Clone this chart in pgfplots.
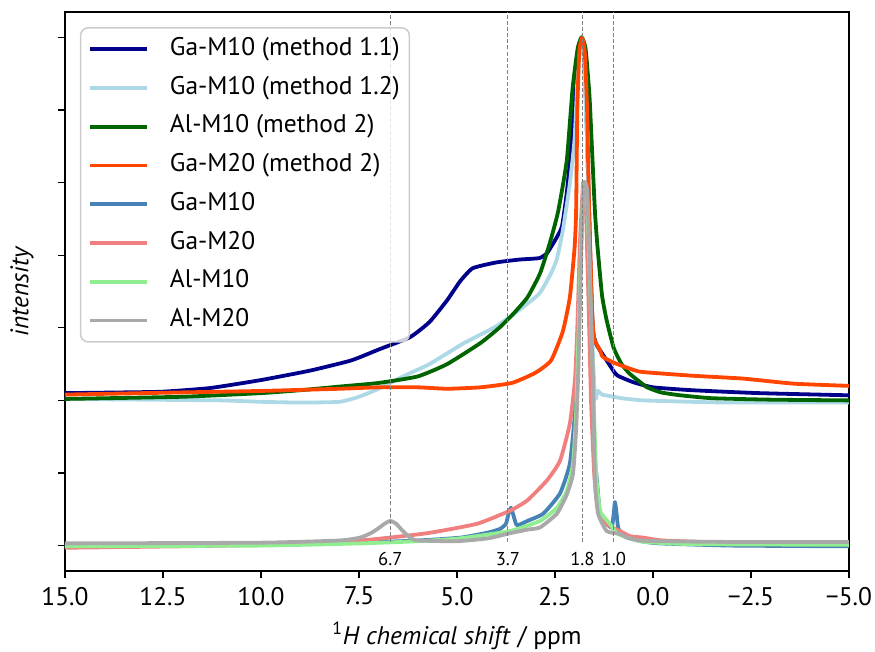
\documentclass[border=0pt]{standalone}
\usepackage{fontspec}
\setmainfont{PT Sans}
\usepackage{pgfplots}
\pgfplotsset{compat=1.18}
\definecolor{cNavy}{HTML}{00008B}
\definecolor{cLBlue}{HTML}{ADD8E6}
\definecolor{cDGreen}{HTML}{006400}
\definecolor{cOrRed}{HTML}{FF4500}
\definecolor{cSteel}{HTML}{4682B4}
\definecolor{cCoral}{HTML}{F08080}
\definecolor{cLGreen}{HTML}{90EE90}
\definecolor{cDGray}{HTML}{A9A9A9}
\begin{document}
\fontsize{13.4}{15.5}\selectfont
\begin{tikzpicture}
\useasboundingbox (-34.2pt,-42.6pt) rectangle (426.3pt,300.5pt);
\begin{axis}[at={(0,0)}, anchor=south west, scale only axis, width=412.6pt, height=294.2pt,
 x dir=reverse, xmin=-5, xmax=15, ymin=-0.35, ymax=7.35,
 xtick={-5,-2.5,0,2.5,5,7.5,10,12.5,15},
 xticklabels={−5.0,−2.5,0.0,2.5,5.0,7.5,10.0,12.5,15.0},
 ytick={0,1,...,7}, yticklabels={},
 xtick pos=bottom, ytick pos=left, tick align=outside, major tick length=3.7pt,
 tick style={line width=0.7pt, black},
 axis line style={line width=0.7pt},
 xlabel={\textsuperscript{1}\textit{H chemical shift} / ppm},
 ylabel={\textit{intensity}},
 every axis y label/.style={at={(axis description cs:0,0.5)}, xshift=-22.6pt, rotate=90, anchor=center},
 every axis x label/.style={at={(axis description cs:0.5,0)}, yshift=-34.2pt, anchor=center},
 legend style={at={(0.019,0.973)}, anchor=north west, draw=black!20, line width=0.8pt, rounded corners=4pt, fill=white, fill opacity=0.8, text opacity=1, draw opacity=1, inner xsep=4pt, inner ysep=4pt, row sep=5.9pt, nodes={inner sep=1pt, text height=9.5pt, text depth=3pt}, /tikz/every odd column/.append style={column sep=10pt}},
 legend cell align=left,
 legend image code/.code={\draw[#1] (0pt,0pt) -- (30pt,0pt);},
 every axis plot/.append style={line width=2pt, line join=round},
]
% Ga-M10 (method 1.1)
\addplot[cNavy, smooth, tension=0.3] coordinates {
(15,2.1) (13.5,2.11) (12.5,2.12) (11.3,2.17) (10,2.28) (8.75,2.41) (7.7,2.55) (7.0,2.7) (6.2,2.87) (5.7,3.08) (5.25,3.38) (4.92,3.64) (4.6,3.82) (4.0,3.9) (3.4,3.94) (2.9,3.96) (2.7,4.03) (2.45,4.25) (2.32,4.4) (2.2,4.85) (2.1,5.4) (2.0,6.1) (1.9,6.75) (1.83,7.0) (1.76,6.75) (1.7,6.0) (1.64,4.8) (1.58,3.6) (1.53,2.95) (1.45,2.78) (1.35,2.69) (1.18,2.55) (1.0,2.4) (0.9,2.34) (0.5,2.25) (0.0,2.18) (-1.0,2.14) (-2.7,2.1) (-5,2.07)};
\addlegendentry{Ga-M10 (method 1.1)}
% Ga-M10 (method 1.2)
\addplot[cLBlue, smooth, tension=0.3] coordinates {
(15,2.02) (13,2.01) (11,2.0) (10,1.98) (9,1.97) (8,1.98) (7.5,2.05) (7,2.16) (6.3,2.35) (5.7,2.5) (4.85,2.78) (4.0,3.02) (3.4,3.25) (2.9,3.47) (2.6,3.75) (2.45,3.95) (2.3,4.34) (2.12,4.99) (2.0,5.6) (1.92,6.5) (1.84,7.0) (1.76,6.7) (1.68,5.5) (1.6,3.8) (1.53,2.6) (1.48,2.05) (1.45,2.03) (1.42,2.13) (1.38,2.12) (1.3,2.08) (1.1,2.06) (0.8,2.03) (0.25,2.0) (-1,1.98) (-2,1.97) (-5,1.97)};
\addlegendentry{Ga-M10 (method 1.2)}
% Al-M10 (method 2)
\addplot[cDGreen, smooth, tension=0.3] coordinates {
(15,2.02) (12,2.05) (10,2.1) (9,2.14) (8,2.19) (7,2.24) (6,2.33) (5.25,2.5) (4.4,2.79) (3.9,3.01) (3.55,3.2) (3.2,3.42) (2.88,3.75) (2.63,4.17) (2.42,4.6) (2.2,5.3) (2.05,6.3) (1.92,6.85) (1.82,7.0) (1.72,6.85) (1.62,6.2) (1.55,5.4) (1.48,4.6) (1.42,4.15) (1.3,3.45) (1.18,3.1) (1.0,2.72) (0.8,2.5) (0.6,2.37) (0.3,2.24) (0.15,2.18) (-0.2,2.11) (-0.7,2.07) (-1.5,2.03) (-3,2.01) (-5,2.0)};
\addlegendentry{Al-M10 (method 2)}
% Ga-M20 (method 2)
\addplot[cOrRed, smooth, tension=0.3] coordinates {
(15,2.08) (12,2.11) (10,2.13) (8,2.16) (7,2.18) (6,2.18) (5.25,2.16) (4.4,2.18) (3.6,2.24) (3.0,2.38) (2.6,2.55) (2.3,2.95) (2.12,3.42) (2.0,4.1) (1.96,4.62) (1.93,6.0) (1.88,6.8) (1.81,7.0) (1.74,6.8) (1.68,6.0) (1.63,4.62) (1.6,4.07) (1.55,3.2) (1.5,2.85) (1.35,2.69) (1.28,2.6) (1.0,2.52) (0.5,2.42) (0.25,2.39) (-1.0,2.34) (-2.3,2.3) (-3.6,2.23) (-5,2.2)};
\addlegendentry{Ga-M20 (method 2)}
% Ga-M10
\addplot[cSteel, smooth, tension=0.3] coordinates {
(15,0.0) (10,0.01) (7.5,0.04) (6,0.07) (4.9,0.11) (4.2,0.18) (3.9,0.23) (3.75,0.3) (3.68,0.45) (3.62,0.52) (3.55,0.4) (3.47,0.28) (3.2,0.34) (2.8,0.44) (2.37,0.72) (2.12,1.13) (1.99,1.82) (1.94,2.4) (1.88,3.5) (1.8,4.7) (1.75,5.0) (1.7,4.7) (1.62,3.2) (1.55,2.0) (1.5,1.3) (1.43,0.9) (1.35,0.44) (1.18,0.3) (1.05,0.25) (1.0,0.45) (0.97,0.6) (0.93,0.45) (0.89,0.25) (0.8,0.16) (0.66,0.11) (0.3,0.06) (-0.18,0.03) (-2,0.0) (-5,-0.01)};
\addlegendentry{Ga-M10}
% Ga-M20
\addplot[cCoral, smooth, tension=0.3] coordinates {
(15,-0.03) (12,-0.01) (10,0.01) (7.47,0.07) (5.77,0.17) (4.49,0.3) (3.65,0.48) (3.21,0.62) (2.7,0.9) (2.37,1.17) (2.12,1.68) (1.99,2.28) (1.93,3.0) (1.86,4.2) (1.78,5.0) (1.72,4.8) (1.65,3.5) (1.58,2.0) (1.5,1.0) (1.43,0.6) (1.28,0.34) (1.0,0.24) (0.84,0.2) (0.59,0.13) (0.25,0.11) (-0.26,0.07) (-2,0.04) (-5,0.03)};
\addlegendentry{Ga-M20}
% Al-M10
\addplot[cLGreen, smooth, tension=0.3] coordinates {
(15,-0.01) (10,0.0) (7.47,0.03) (6,0.06) (4.92,0.1) (3.65,0.2) (2.88,0.34) (2.45,0.52) (2.2,0.75) (2.04,1.13) (1.96,1.82) (1.9,2.9) (1.84,4.0) (1.78,4.9) (1.74,5.0) (1.68,4.8) (1.6,3.5) (1.53,2.3) (1.45,1.0) (1.35,0.48) (1.1,0.3) (0.92,0.17) (0.66,0.11) (0.2,0.05) (-1,0.02) (-5,0.01)};
\addlegendentry{Al-M10}
% Al-M20
\addplot[cDGray, smooth, tension=0.3] coordinates {
(15,0.03) (10,0.04) (8,0.07) (7.47,0.11) (7.2,0.17) (7.0,0.24) (6.85,0.3) (6.7,0.34) (6.55,0.3) (6.38,0.2) (6.2,0.11) (6.0,0.07) (5,0.06) (4.2,0.1) (3.65,0.17) (3.2,0.22) (2.88,0.25) (2.45,0.44) (2.2,0.7) (2.04,0.99) (1.96,1.6) (1.9,2.5) (1.85,3.6) (1.8,4.6) (1.75,5.0) (1.68,4.9) (1.62,4.0) (1.56,2.8) (1.53,2.28) (1.48,0.9) (1.4,0.44) (1.18,0.2) (0.84,0.16) (0.66,0.11) (0.33,0.07) (-0.18,0.06) (-2,0.05) (-5,0.05)};
\addlegendentry{Al-M20}
% reference lines
\addplot[forget plot, gray, line width=0.6pt, dash pattern=on 2.1pt off 1.1pt] coordinates {(6.7,0.05) (6.7,7.35)};
\addplot[forget plot, gray, line width=0.6pt, dash pattern=on 2.1pt off 1.1pt] coordinates {(3.7,0.05) (3.7,7.35)};
\addplot[forget plot, gray, line width=0.6pt, dash pattern=on 2.1pt off 1.1pt] coordinates {(1.8,0.05) (1.8,7.35)};
\addplot[forget plot, gray, line width=0.6pt, dash pattern=on 2.1pt off 1.1pt] coordinates {(1.0,0.05) (1.0,7.35)};
\node[font=\fontsize{9.8}{11}\selectfont] at (axis cs:6.7,-0.19) {6.7};
\node[font=\fontsize{9.8}{11}\selectfont] at (axis cs:3.7,-0.19) {3.7};
\node[font=\fontsize{9.8}{11}\selectfont] at (axis cs:1.8,-0.19) {1.8};
\node[font=\fontsize{9.8}{11}\selectfont] at (axis cs:1.0,-0.19) {1.0};
\end{axis}
\end{tikzpicture}
\end{document}
